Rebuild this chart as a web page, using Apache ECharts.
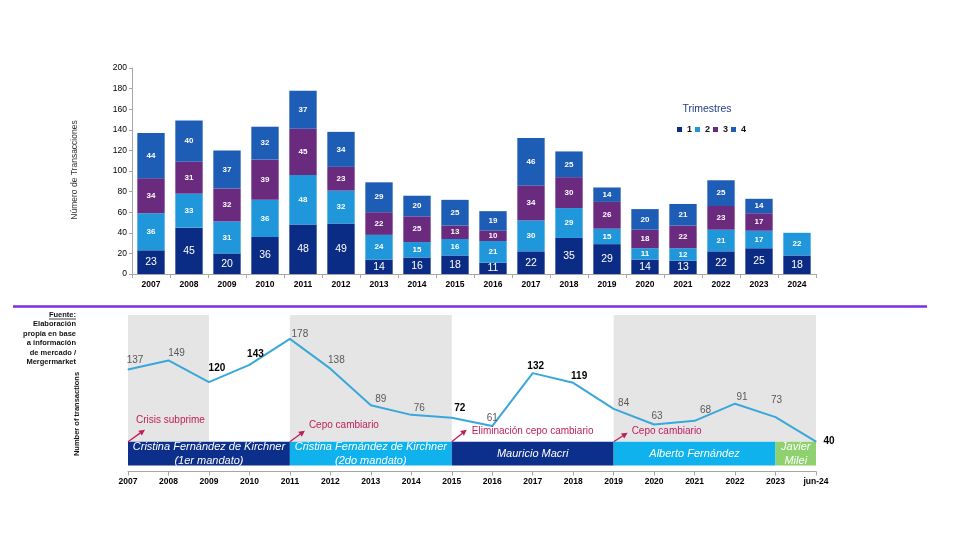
<!DOCTYPE html>
<html><head><meta charset="utf-8">
<script src="https://cdn.jsdelivr.net/npm/echarts@6/dist/echarts.min.js"></script>
<style>html,body{margin:0;padding:0;background:#fff}#c{width:960px;height:540px}</style>
</head><body><div id="c"></div>
<script>
// ---------- DATA ----------
const years = ['2007','2008','2009','2010','2011','2012','2013','2014','2015','2016','2017','2018','2019','2020','2021','2022','2023','2024'];
const q1 = [23,45,20,36,48,49,14,16,18,11,22,35,29,14,13,22,25,18];
const q2 = [36,33,31,36,48,32,24,15,16,21,30,29,15,11,12,21,17,22];
const q3 = [34,31,32,39,45,23,22,25,13,10,34,30,26,18,22,23,17,null];
const q4 = [44,40,37,32,37,34,29,20,25,19,46,25,14,20,21,25,14,null];
const quarterNames = ['1','2','3','4'];

const lineCats = ['2007','2008','2009','2010','2011','2012','2013','2014','2015','2016','2017','2018','2019','2020','2021','2022','2023','jun-24'];
const totals = [137,149,120,143,178,138,89,76,72,61,132,119,84,63,68,91,73,40];

const shadedPeriods = [['2007','2009'],['2011','2015'],['2019','jun-24']];
const governments = [
  {name:'Cristina Fernández de Kirchner\n(1er mandato)', from:'2007', to:'2011'},
  {name:'Cristina Fernández de Kirchner\n(2do mandato)', from:'2011', to:'2015'},
  {name:'Mauricio Macri', from:'2015', to:'2019'},
  {name:'Alberto Fernández', from:'2019', to:'2023'},
  {name:'Javier\nMilei', from:'2023', to:'jun-24'}
];
const events = [
  {text:'Crisis subprime', at:'2007'},
  {text:'Cepo cambiario', at:'2011'},
  {text:'Eliminación cepo cambiario', at:'2015'},
  {text:'Cepo cambiario', at:'2019'}
];

// ---------- STYLE ----------
const font = '"Liberation Sans", Arial, sans-serif';
const quarterColors = ['#0B2C85','#1F97DA','#6A2B7E','#1E5DB5'];
const govColors = ['#0B2F8A','#0FB2EC','#0B2F8A','#0FB2EC','#8FD16E'];
const lineColor = '#3AA7DA';
const bandLow = 8, bandHigh = 40, shadeTop = 210;
// label offsets (px) relative to each point & dark-label flags
const labelOffsets = [[7,-9],[8,-7],[8,-14],[6,-11],[10,-5],[6,-8],[10,-6],[8,-7],[8,-10],[0,-8],[3,-7],[6,-7],[10,-6],[3,-8],[11,-11],[7,-6],[1,-17],[13,0]];
const darkLabel = [0,0,1,1,0,0,0,0,1,0,1,1,0,0,0,0,0,1];
const eventStyle = [
  {arrow:[17,-12], text:[8,-21]},
  {arrow:[15,-11], text:[19,-16]},
  {arrow:[15,-12], text:[20,-10]},
  {arrow:[14,-9], text:[18,-10]}
];

const chart = echarts.init(document.getElementById('c'));
const quarterData = [q1,q2,q3,q4];

const barSeries = quarterData.map((d,i)=>({
  name: quarterNames[i], type:'bar', stack:'t', xAxisIndex:0, yAxisIndex:0,
  barWidth:'72%', data:d, itemStyle:{color:quarterColors[i]},
  label:{show:true, position:'inside', color:'#fff', fontFamily:font,
    fontSize: i===0?10.5:8, fontWeight: i===0?'normal':'bold',
    formatter: p => (p.value==null?'':p.value)}
}));

const markAreaData = [];
shadedPeriods.forEach(p=>{
  markAreaData.push([{xAxis:p[0], yAxis:bandHigh, itemStyle:{color:'#E5E5E5'}, label:{show:false}},{xAxis:p[1], yAxis:shadeTop}]);
});
governments.forEach((g,i)=>{
  markAreaData.push([{xAxis:g.from, yAxis:bandLow, name:g.name, itemStyle:{color:govColors[i]},
    label:{show:true, position:'inside', color:'#fff', fontStyle:'italic', fontSize:11, lineHeight:14, fontFamily:font, formatter:g.name}},
    {xAxis:g.to, yAxis:bandHigh}]);
});

const lineSeries = {
  type:'line', xAxisIndex:1, yAxisIndex:1, z:5,
  data: totals.map((v,i)=>({value:v, label:{offset:labelOffsets[i], color: darkLabel[i]?'#000':'#595959', fontWeight: darkLabel[i]?'bold':'normal'}})),
  symbol:'circle', symbolSize:1, showSymbol:true,
  lineStyle:{color:lineColor, width:2}, itemStyle:{color:lineColor},
  label:{show:true, position:'inside', fontSize:10, fontFamily:font},
  markArea:{silent:true, data:markAreaData}
};

chart.setOption({
  animation:false,
  textStyle:{fontFamily:font},
  grid:[
    {left:132, right:144, top:68, height:206},
    {left:128, right:144, top:315, height:156.5}
  ],
  legend:{data:quarterNames, left:677, top:125, itemWidth:5, itemHeight:5, itemGap:3, icon:'rect', padding:0,
    textStyle:{fontSize:9, fontWeight:'bold', color:'#111', fontFamily:font}},
  xAxis:[
    {type:'category', gridIndex:0, data:years, boundaryGap:true,
      axisLine:{lineStyle:{color:'#A6A6A6'}}, axisTick:{show:true, length:4, lineStyle:{color:'#A6A6A6'}},
      axisLabel:{color:'#000', fontWeight:'bold', fontSize:8.5, margin:6, fontFamily:font}},
    {type:'category', gridIndex:1, data:lineCats, boundaryGap:false,
      axisLine:{lineStyle:{color:'#A6A6A6'}}, axisTick:{show:true, length:4, lineStyle:{color:'#A6A6A6'}},
      axisLabel:{color:'#000', fontWeight:'bold', fontSize:8.5, margin:6, fontFamily:font}}
  ],
  yAxis:[
    {type:'value', gridIndex:0, min:0, max:200, interval:20,
      axisLine:{show:true, lineStyle:{color:'#A6A6A6'}}, axisTick:{show:true, length:3, lineStyle:{color:'#A6A6A6'}},
      splitLine:{show:false}, axisLabel:{color:'#000', fontSize:8.5, margin:5, fontFamily:font}},
    {type:'value', gridIndex:1, min:0, max:shadeTop, show:false, splitLine:{show:false}}
  ],
  series:[...barSeries, lineSeries]
});

// ---------- annotations ----------
const g = [];
g.push({type:'line', shape:{x1:13, y1:306.5, x2:927, y2:306.5}, style:{stroke:'#7B2FE2', lineWidth:2.5}, silent:true});
g.push({type:'text', x:76, y:310, style:{text:'Fuente:\nElaboración\npropia en base\na información\nde mercado /\nMergermarket', align:'right', verticalAlign:'top', fontSize:7.5, lineHeight:9.5, fontWeight:'bold', fill:'#111', font:'bold 7.5px "Liberation Sans", Arial, sans-serif'}});
g.push({type:'line', shape:{x1:49, y1:319, x2:76, y2:319}, style:{stroke:'#111', lineWidth:0.8}});
g.push({type:'text', x:75, y:170, rotation:Math.PI/2, style:{text:'Número de Transacciones', align:'center', verticalAlign:'middle', fill:'#333', font:'8.5px "Liberation Sans", Arial, sans-serif'}});
g.push({type:'text', x:77, y:414, rotation:Math.PI/2, style:{text:'Number of transactions', align:'center', verticalAlign:'middle', fill:'#111', font:'bold 7.5px "Liberation Sans", Arial, sans-serif'}});
g.push({type:'text', x:707, y:109, style:{text:'Trimestres', align:'center', verticalAlign:'middle', fill:'#1F3C88', font:'10.5px "Liberation Sans", Arial, sans-serif'}});

const evColor = '#BE1E5A';
events.forEach((ev,i)=>{
  const p = chart.convertToPixel({gridIndex:1}, [ev.at, bandHigh]);
  const st = eventStyle[i];
  const x0 = p[0], y0 = p[1];
  const x1 = x0 + st.arrow[0], y1 = y0 + st.arrow[1];
  const ang = Math.atan2(y1-y0, x1-x0);
  const L = 6, W = 3;
  const bx = x1 - L*Math.cos(ang), by = y1 - L*Math.sin(ang);
  const nx = -Math.sin(ang), ny = Math.cos(ang);
  g.push({type:'line', shape:{x1:x0, y1:y0, x2:bx, y2:by}, style:{stroke:evColor, lineWidth:1.3}, z:10});
  g.push({type:'polygon', shape:{points:[[x1,y1],[bx+nx*W,by+ny*W],[bx-nx*W,by-ny*W]]}, style:{fill:evColor}, z:10});
  g.push({type:'text', x:x0+st.text[0], y:y0+st.text[1], z:10, style:{text:ev.text, align:'left', verticalAlign:'middle', fill:evColor, font:'10px "Liberation Sans", Arial, sans-serif'}});
});
chart.setOption({graphic:g});
</script></body></html>
